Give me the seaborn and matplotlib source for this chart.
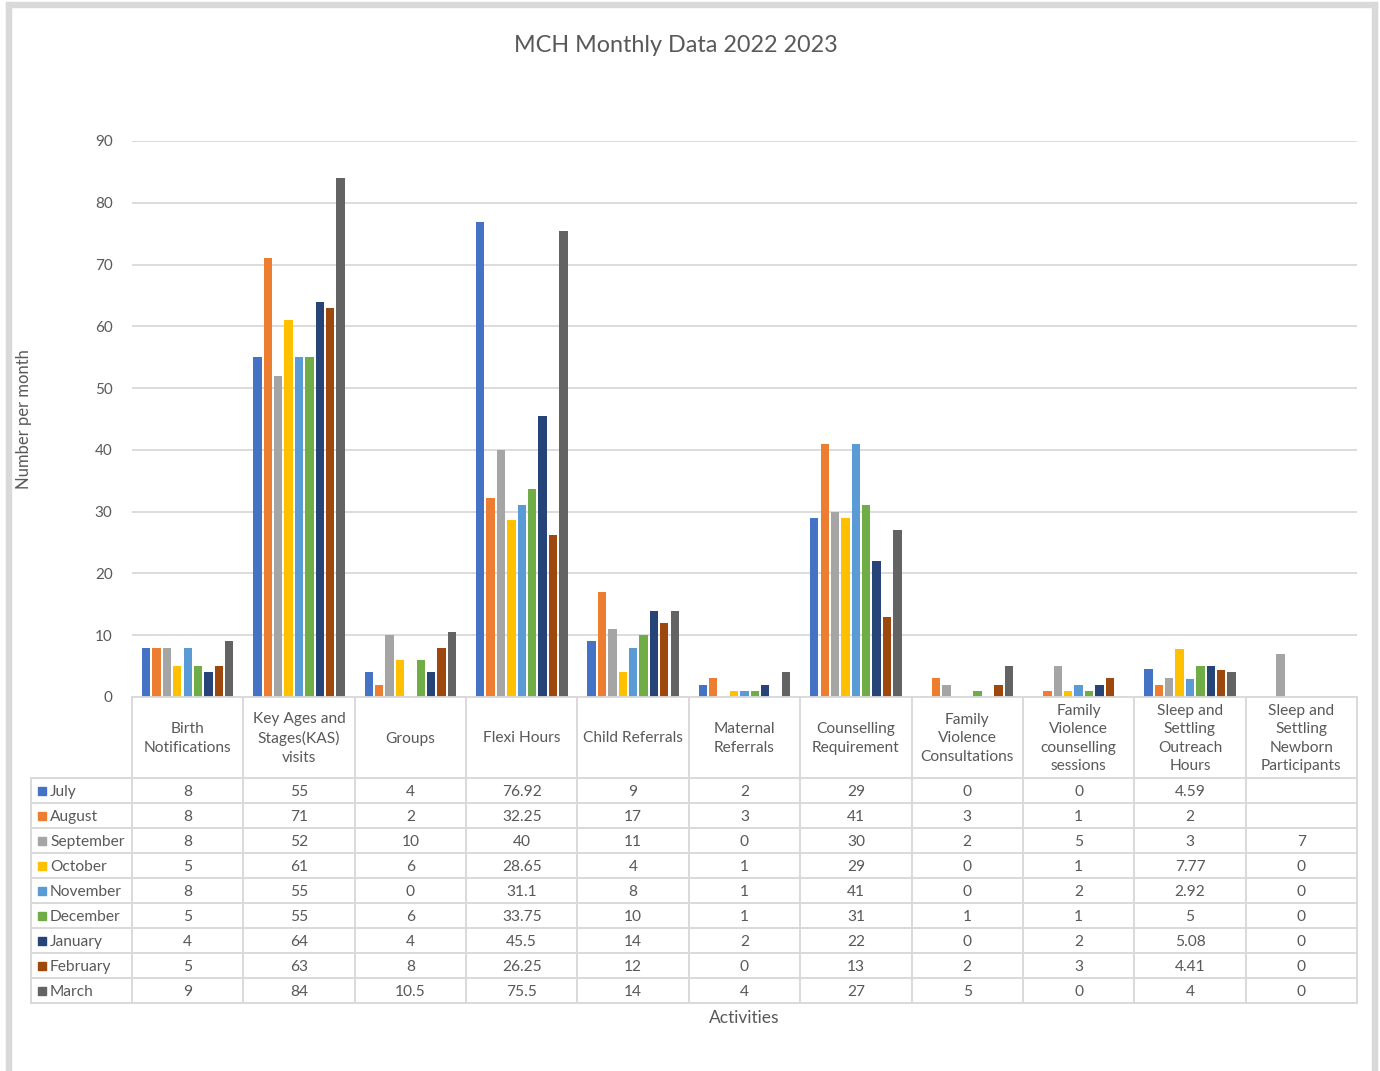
import numpy as np
import pandas as pd
import matplotlib.pyplot as plt
from matplotlib.patches import Rectangle
import seaborn as sns

# chart data
activities = ["Birth\nNotifications", "Key Ages and\nStages(KAS)\nvisits", "Groups",
              "Flexi Hours", "Child Referrals", "Maternal\nReferrals",
              "Counselling\nRequirement", "Family\nViolence\nConsultations",
              "Family\nViolence\ncounselling\nsessions",
              "Sleep and\nSettling\nOutreach\nHours",
              "Sleep and\nSettling\nNewborn\nParticipants"]
months = ["July", "August", "September", "October", "November",
          "December", "January", "February", "March"]
nan = np.nan
july = [8, 55, 4, 76.92, 9, 2, 29, 0, 0, 4.59, nan]
august = [8, 71, 2, 32.25, 17, 3, 41, 3, 1, 2, nan]
september = [8, 52, 10, 40, 11, 0, 30, 2, 5, 3, 7]
october = [5, 61, 6, 28.65, 4, 1, 29, 0, 1, 7.77, 0]
november = [8, 55, 0, 31.1, 8, 1, 41, 0, 2, 2.92, 0]
december = [5, 55, 6, 33.75, 10, 1, 31, 1, 1, 5, 0]
january = [4, 64, 4, 45.5, 14, 2, 22, 0, 2, 5.08, 0]
february = [5, 63, 8, 26.25, 12, 0, 13, 2, 3, 4.41, 0]
march = [9, 84, 10.5, 75.5, 14, 4, 27, 5, 0, 4, 0]
colors = ["#4472C4", "#ED7D31", "#A5A5A5", "#FFC000", "#5B9BD5",
          "#70AD47", "#264478", "#9E480E", "#636363"]

series = [july, august, september, october, november, december,
          january, february, march]
rows = []
for m, vals in zip(months, series):
    for a, v in zip(activities, vals):
        rows.append({"activity": a, "month": m, "value": v})
df = pd.DataFrame(rows)

sns.set_style("white")
plt.rcParams["font.family"] = ["Lato", "DejaVu Sans"]
txt = "#595959"
line = "#d9d9d9"

W, H = 1380, 1071
fig = plt.figure(figsize=(W / 100, H / 100), dpi=100)

def fx(px):
    return px / W

def fy(py):
    return 1 - py / H

# plot area in pixels
left, right, top, base = 132, 1357, 141, 697
ax = fig.add_axes([fx(left), fy(base), fx(right - left), fy(top) - fy(base)])
sns.barplot(data=df, x="activity", y="value", hue="month", order=activities,
            hue_order=months, palette=dict(zip(months, colors)),
            width=0.84, gap=0.2, linewidth=0, saturation=1, ax=ax, legend=False)
ax.set_xlim(-0.5, len(activities) - 0.5)
ax.set_ylim(0, 90)
ax.set_yticks(range(0, 91, 10))
ax.yaxis.grid(True, color=line, linewidth=1.3)
ax.set_axisbelow(True)
ax.set_xticks([])
ax.set_xlabel("")
ax.set_ylabel("")
for s in ["top", "right", "left"]:
    ax.spines[s].set_visible(False)
ax.spines["bottom"].set_color(line)
ax.spines["bottom"].set_linewidth(1.3)
ax.tick_params(axis="y", length=0, pad=14, labelsize=11, labelcolor=txt)

# data table drawn on an overlay in pixel coordinates
tab = fig.add_axes([0, 0, 1, 1], zorder=-1)
tab.set_xlim(0, W)
tab.set_ylim(H, 0)
tab.axis("off")

ncol = len(activities)
colw = (right - left) / ncol
hdr_bottom = 778
rowh = 25
tbl_left = 31
tbl_bottom = hdr_bottom + rowh * len(months)
lw = 1.4
fs = 11.2

for i in range(ncol + 1):
    x = left + i * colw
    tab.plot([x, x], [base, tbl_bottom], color=line, lw=lw)
tab.plot([tbl_left, tbl_left], [hdr_bottom, tbl_bottom], color=line, lw=lw)
for r in range(len(months) + 1):
    y = hdr_bottom + r * rowh
    tab.plot([tbl_left, right], [y, y], color=line, lw=lw)

for i, a in enumerate(activities):
    tab.text(left + (i + 0.5) * colw, (base + hdr_bottom) / 2 + 1, a,
             ha="center", va="center", fontsize=fs, color=txt, linespacing=1.42)

for r, (m, vals, c) in enumerate(zip(months, series, colors)):
    yc = hdr_bottom + (r + 0.5) * rowh + 1.5
    tab.add_patch(Rectangle((38, yc - 5), 8, 8, color=c))
    tab.text(50, yc, m, ha="left", va="center", fontsize=fs, color=txt)
    for i, v in enumerate(vals):
        s = "" if np.isnan(v) else f"{v:g}"
        tab.text(left + (i + 0.5) * colw, yc, s, ha="center", va="center",
                 fontsize=fs, color=txt)

# frame, titles and axis labels
tab.add_patch(Rectangle((6, 2), 1371, 5, color="#d9d9d9"))
tab.add_patch(Rectangle((6, 2), 5, H, color="#d9d9d9"))
tab.add_patch(Rectangle((1372, 2), 5, H, color="#d9d9d9"))
tab.text(676, 46, "MCH Monthly Data 2022 2023", ha="center", va="center",
         fontsize=16.8, color=txt)
tab.text(744, 1018, "Activities", ha="center", va="center", fontsize=12.5, color=txt)
tab.text(24, 419, "Number per month", ha="center", va="center", rotation=90,
         fontsize=12, color=txt)

fig.savefig("out.png", dpi=100, facecolor="white")
